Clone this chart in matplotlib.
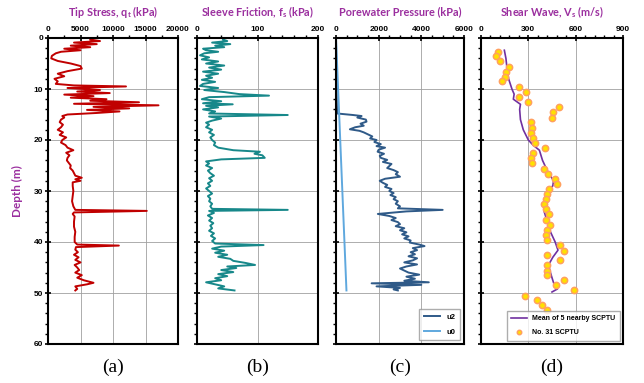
import matplotlib.pyplot as plt
from matplotlib.ticker import MultipleLocator

# ---- data ----
qt_depth = [0.3, 0.6, 0.9, 1.2, 1.5, 1.8, 2.1, 2.4, 2.7, 3.0, 3.5, 4.0, 4.5, 5.0, 5.5, 6.0, 6.5, 7.0,
            7.5, 8.0, 8.5, 9.0, 9.3, 9.5, 9.8, 10.2, 10.5, 10.8, 11.1, 11.4, 11.7, 12.0, 12.3, 12.6,
            12.9, 13.2, 13.5, 13.8, 14.1, 14.4, 14.7, 15.0, 15.3, 15.6, 16.0, 16.5, 17.0, 17.5, 18.0,
            18.5, 19.0, 19.5, 20.0, 20.5, 21.0, 21.5, 22.0, 22.5, 23.0, 23.5, 24.0, 24.5, 25.0, 25.5,
            26.0, 26.5, 27.0, 27.4, 27.7, 28.0, 28.3, 29.0, 30.0, 31.0, 32.0, 33.0, 33.7, 33.9, 34.2,
            34.5, 35.0, 36.0, 37.0, 38.0, 39.0, 40.0, 40.5, 40.7, 41.0, 41.5, 42.0, 42.5, 43.0, 43.5,
            44.0, 44.5, 45.0, 45.5, 46.0, 46.5, 47.0, 47.5, 48.0, 48.3, 48.7, 49.2, 49.5]
qt = [6500, 8000, 4000, 7500, 3500, 6500, 2500, 5000, 2000, 1200, 600, 500, 1500, 3500, 5000, 5200,
      3000, 1500, 2500, 1000, 1500, 1200, 4000, 12000, 3000, 8000, 4500, 9500, 2500, 7000, 3500, 9000,
      6500, 14000, 4000, 17000, 7000, 12500, 6000, 11000, 7500, 3000, 2200, 2500, 2000, 1800, 2300,
      2000, 1500, 2300, 1800, 2800, 2200, 2000, 2700, 3000, 3900, 2800, 3300, 3000, 2900, 3200, 3500,
      3400, 3800, 4000, 4200, 5200, 4200, 5000, 3800, 3800, 3900, 3800, 3700, 3900, 4200, 15200,
      4000, 3800, 4100, 4000, 4000, 4200, 4100, 4100, 4500, 10900, 4300, 4200, 4600, 4000, 4700,
      4200, 5000, 4100, 4500, 4800, 4200, 5200, 4500, 5500, 7000, 6000, 4200, 4500, 4200]

fs_depth = [0.3, 0.6, 0.9, 1.2, 1.5, 1.8, 2.1, 2.4, 2.7, 3.0, 3.4, 3.8, 4.2, 4.6, 5.0, 5.4, 5.8, 6.2,
            6.6, 7.0, 7.4, 7.8, 8.2, 8.6, 9.0, 9.4, 9.8, 10.2, 10.6, 11.0, 11.3, 11.6, 12.0, 12.4,
            12.8, 13.0, 13.3, 13.6, 14.0, 14.4, 14.8, 15.1, 15.4, 15.8, 16.2, 16.6, 17.0, 17.5, 18.0,
            18.5, 19.0, 19.5, 20.0, 20.5, 21.0, 21.5, 22.0, 22.3, 22.7, 23.0, 23.5, 23.8, 24.2, 24.6,
            25.0, 25.5, 26.0, 26.5, 27.0, 27.5, 28.0, 28.5, 29.0, 29.5, 30.0, 30.5, 31.0, 31.5, 32.0,
            32.5, 33.0, 33.5, 33.7, 33.9, 34.3, 34.8, 35.3, 35.8, 36.3, 36.8, 37.3, 37.8, 38.3, 38.8,
            39.3, 39.8, 40.3, 40.6, 40.9, 41.3, 41.7, 42.1, 42.5, 42.9, 43.3, 43.7, 44.1, 44.5, 44.8,
            45.1, 45.5, 45.9, 46.3, 46.7, 47.1, 47.5, 47.9, 48.3, 48.7, 49.1, 49.5]
fs = [43, 50, 25, 55, 30, 45, 10, 15, 35, 12, 5, 20, 8, 35, 15, 45, 20, 40, 10, 35, 15, 25, 8, 30,
      10, 5, 35, 12, 45, 70, 119, 20, 8, 40, 10, 59, 15, 35, 10, 30, 20, 150, 20, 40, 25, 15, 20, 15,
      25, 20, 28, 22, 25, 30, 28, 35, 60, 104, 95, 108, 112, 40, 15, 20, 15, 25, 18, 22, 28, 20, 25,
      18, 22, 15, 20, 25, 18, 22, 20, 25, 22, 25, 150, 20, 28, 18, 25, 20, 27, 22, 25, 20, 28, 23,
      30, 25, 30, 110, 40, 25, 45, 30, 50, 35, 55, 60, 80, 96, 50, 65, 40, 60, 35, 50, 30, 40, 15,
      30, 45, 35, 62]

u2_depth = [0, 5, 10, 14.8, 15.1, 15.3, 15.6, 16.0, 16.4, 16.8, 17.2, 17.5, 17.9, 18.2, 18.5, 18.9,
            19.3, 19.7, 20.0, 20.4, 20.8, 21.2, 21.5, 21.9, 22.3, 22.7, 23.1, 23.5, 23.9, 24.3, 24.7,
            25.1, 25.5, 25.9, 26.3, 26.7, 27.2, 27.6, 28.0, 28.4, 28.8, 29.2, 29.6, 30.0, 30.4, 30.8,
            31.2, 31.6, 32.0, 32.5, 33.0, 33.4, 33.7, 34.0, 34.5, 34.9, 35.3, 35.7, 36.1, 36.5, 36.9,
            37.3, 37.7, 38.1, 38.5, 38.9, 39.3, 39.7, 40.1, 40.5, 40.8, 41.2, 41.6, 42.0, 42.4, 42.8,
            43.2, 43.6, 44.0, 44.4, 44.8, 45.2, 45.6, 46.0, 46.4, 46.8, 47.2, 47.6, 47.9, 48.1, 48.4,
            48.7, 49.0, 49.3, 49.5]
u2 = [0, 10, 20, 50, 800, 1200, 1000, 1400, 1430, 1150, 1300, 900, 650, 1100, 1300, 1500, 1700,
      1600, 1900, 1800, 2100, 1900, 2300, 2000, 1950, 2250, 2050, 2100, 2400, 2200, 2600, 2500, 2400,
      2700, 2900, 2800, 3000, 2300, 2050, 2200, 2400, 2300, 2600, 2500, 2700, 2550, 2800, 2700, 2900,
      2800, 3000, 2900, 5000, 3300, 1960, 2500, 2800, 2600, 2900, 3000, 2800, 3200, 3000, 3300, 3100,
      3400, 3200, 3500, 3450, 3900, 4150, 3600, 3800, 3500, 3700, 3400, 3800, 3600, 3200, 3800, 3300,
      3000, 3200, 3400, 3900, 3300, 3700, 3200, 4350, 1670, 4000, 1900, 3000, 2700, 2900]

u0_depth = [0, 49.5]
u0 = [0, 490]

vs_mean_depth = [2.4, 4, 6, 8, 10, 11, 12, 13, 14, 16, 18, 20, 21, 22, 24, 26, 28, 29, 30, 32, 34,
                 36, 38, 40, 41.6, 43, 44.5, 46, 48, 49.2, 49.8]
vs_mean = [148, 158, 165, 175, 196, 210, 205, 250, 245, 250, 268, 300, 330, 370, 390, 420, 460, 455,
           420, 410, 400, 420, 440, 470, 488, 455, 428, 440, 460, 485, 450]

vs_depth = [2.7, 3.5, 4.6, 5.7, 6.6, 7.6, 8.5, 9.7, 10.5, 11.5, 12.6, 13.5, 14.6, 15.6, 16.5, 17.6,
            18.6, 19.6, 20.6, 21.6, 22.6, 23.6, 24.6, 25.6, 26.6, 27.6, 28.6, 29.6, 30.6, 31.6, 32.6,
            33.6, 34.6, 35.6, 36.6, 37.6, 38.6, 39.6, 40.6, 41.7, 42.5, 43.5, 44.5, 45.6, 46.5, 47.5,
            48.5, 49.5, 50.5, 51.4, 52.4, 53.4]
vs = [110, 95, 120, 178, 158, 150, 131, 243, 285, 241, 300, 496, 454, 452, 319, 321, 318, 330, 345,
      405, 330, 318, 323, 400, 425, 470, 480, 430, 420, 410, 400, 415, 430, 410, 440, 420, 410, 420,
      500, 528, 418, 500, 416, 416, 416, 528, 475, 591, 281, 357, 385, 420]

title_col = '#9b2f9f'
plt.rcParams['font.family'] = ['Liberation Sans', 'DejaVu Sans']

fig = plt.figure(figsize=(6.44, 3.83), dpi=100)
W, H = 644, 383
boxes = [(48, 178), (197, 318), (336, 464), (481, 623)]
axes = []
for x0, x1 in boxes:
    ax = fig.add_axes([x0 / W, 1 - 344 / H, (x1 - x0) / W, 306 / H])
    axes.append(ax)

settings = [
    ('Tip Stress, q$_\\mathregular{t}$ (kPa)', 20000, 5000, 2500),
    ('Sleeve Friction, f$_\\mathregular{s}$ (kPa)', 200, 100, 20),
    ('Porewater Pressure (kPa)', 6000, 2000, 500),
    ('Shear Wave, V$_\\mathregular{s}$ (m/s)', 900, 300, 60),
]

ax = axes[0]
ax.plot(qt, qt_depth, color='#c00000', lw=1.4)
ax = axes[1]
ax.plot(fs, fs_depth, color='#17888a', lw=1.4)
ax = axes[2]
ax.plot(u2, u2_depth, color='#2f5a88', lw=1.4, label='u2')
ax.plot(u0, u0_depth, color='#5fa8de', lw=1.4, label='u0')
ax.legend(loc='lower right', handlelength=2.2, fancybox=False, edgecolor='#999999',
          borderpad=0.6, labelspacing=1.0, prop={'size': 5.5, 'weight': 'bold'})
ax = axes[3]
ax.plot(vs_mean, vs_mean_depth, color='#7030a0', lw=1.2, label='Mean of 5 nearby SCPTU')
ax.plot(vs, vs_depth, 'o', ms=4.5, mfc='#ffe000', mec='#ffa060', mew=1.1, ls='none',
        label='No. 31 SCPTU')
ax.legend(loc='lower right', fancybox=False, edgecolor='#999999', handlelength=2.2,
          markerscale=0.7, borderpad=0.6, labelspacing=1.0, prop={'size': 5, 'weight': 'bold'})

for i, ax in enumerate(axes):
    title, xmax, major, minor = settings[i]
    ax.set_xlim(0, xmax)
    ax.set_ylim(60, 0)
    ax.xaxis.tick_top()
    ax.xaxis.set_major_locator(MultipleLocator(major))
    ax.xaxis.set_minor_locator(MultipleLocator(minor))
    ax.yaxis.set_major_locator(MultipleLocator(10))
    ax.yaxis.set_minor_locator(MultipleLocator(2))
    ax.grid(True, which='major', color='#a0a0a0', lw=0.6)
    ax.set_axisbelow(True)
    ax.tick_params(which='major', direction='inout', length=5, width=1.2, labelsize=6, pad=1)
    ax.tick_params(which='minor', direction='out', length=2.5, width=1)
    for lab in ax.get_xticklabels() + ax.get_yticklabels():
        lab.set_fontweight('bold')
    for s in ax.spines.values():
        s.set_linewidth(1.5)
    if i > 0:
        ax.tick_params(axis='y', labelleft=False)
    fig.text((boxes[i][0] + boxes[i][1]) / 2 / W, 1 - 12 / H, title, ha='center', va='center',
             color=title_col, fontsize=7.8, fontweight='bold', family=['Lato', 'DejaVu Sans'])
    fig.text((boxes[i][0] + boxes[i][1]) / 2 / W, 1 - 367 / H, '(' + 'abcd'[i] + ')',
             ha='center', va='center', fontsize=14, family='Liberation Serif')

axes[0].set_ylabel('Depth (m)', color=title_col, fontsize=8.5, fontweight='bold',
                   family=['Lato', 'DejaVu Sans'], labelpad=8)

fig.savefig('out.png', dpi=100)
